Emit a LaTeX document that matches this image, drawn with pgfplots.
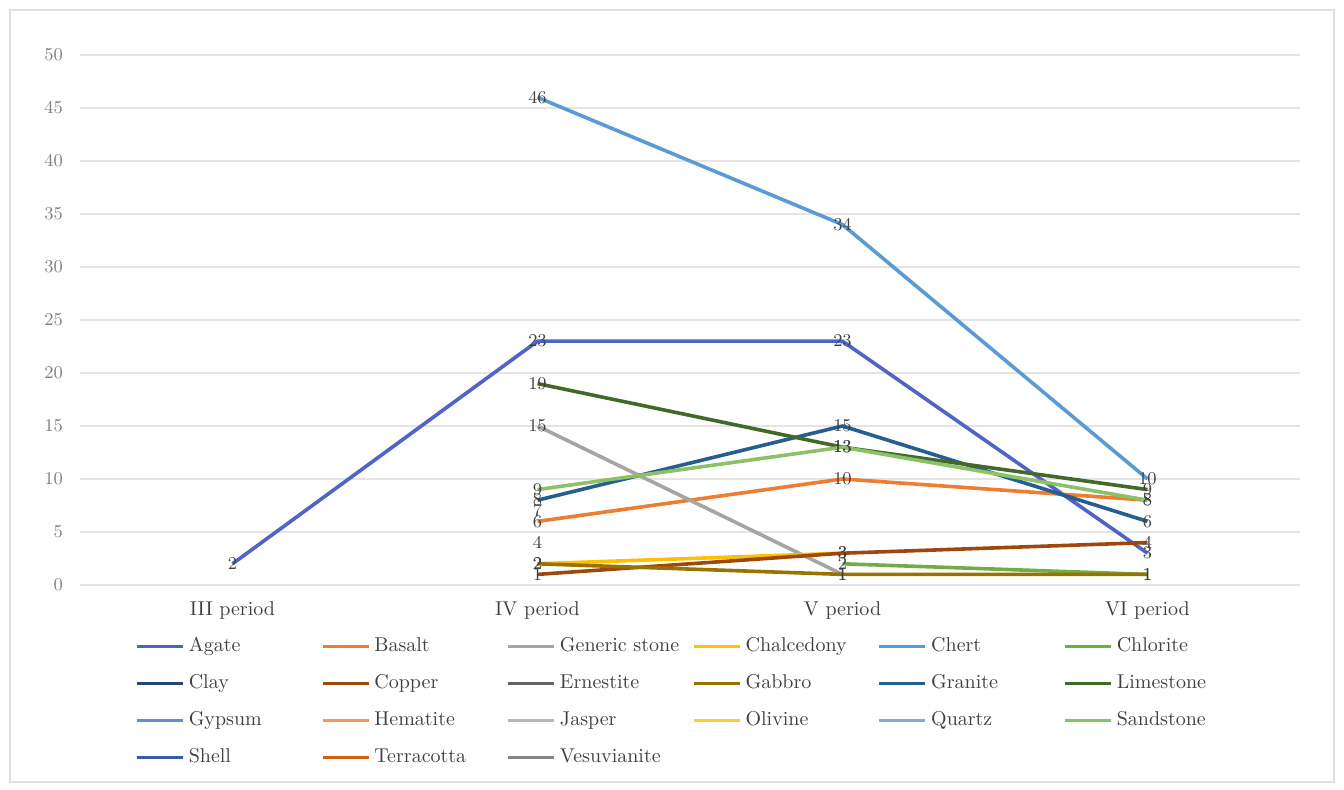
\documentclass[border=0pt]{standalone}
\usepackage{pgfplots}
\pgfplotsset{compat=1.18}
\definecolor{cAgate}{HTML}{4F64C4}
\definecolor{cBasalt}{HTML}{ED7D31}
\definecolor{cGeneric}{HTML}{A5A5A5}
\definecolor{cChalcedony}{HTML}{FFC000}
\definecolor{cChert}{HTML}{5B9BD5}
\definecolor{cChlorite}{HTML}{70AD47}
\definecolor{cClay}{HTML}{264478}
\definecolor{cCopper}{HTML}{9E480E}
\definecolor{cErnestite}{HTML}{636363}
\definecolor{cGabbro}{HTML}{997300}
\definecolor{cGranite}{HTML}{255E91}
\definecolor{cLimestone}{HTML}{43682B}
\definecolor{cGypsum}{HTML}{698ED0}
\definecolor{cHematite}{HTML}{F1975A}
\definecolor{cJasper}{HTML}{B7B7B7}
\definecolor{cOlivine}{HTML}{FFCD33}
\definecolor{cQuartz}{HTML}{7CAFDD}
\definecolor{cSandstone}{HTML}{8CC168}
\definecolor{cShell}{HTML}{3A5CA8}
\definecolor{cTerracotta}{HTML}{D26012}
\definecolor{cVesuvianite}{HTML}{848484}
\definecolor{gridc}{HTML}{E4E4E4}
\definecolor{tickc}{HTML}{7F7F7F}
\definecolor{labc}{HTML}{404040}
\begin{document}
\begin{tikzpicture}
\useasboundingbox (0,0) rectangle (672pt,395pt);
\draw[color=gray!25, line width=0.6pt] (5pt,4pt) rectangle (667pt,390pt);
\begin{axis}[
  at={(40pt,102.5pt)}, anchor=south west,
  scale only axis, width=610pt, height=265pt,
  xmin=-0.5, xmax=3.5, ymin=0, ymax=50,
  xtick={0,1,2,3},
  xticklabels={III period, IV period, V period, VI period},
  ytick={0,5,...,50},
  ymajorgrids, grid style={gridc, line width=0.6pt},
  axis line style={draw=none},
  major tick length=0pt,
  clip=false,
  yticklabel style={font=\fontsize{9.5}{10}\selectfont, text=tickc, xshift=-5pt},
  xticklabel style={font=\fontsize{10}{12}\selectfont, text=labc, yshift=-5pt},
  no markers,
  every axis plot/.append style={line width=1.8pt, line join=round},
  nodes near coords,
  every node near coord/.append style={anchor=center, font=\fontsize{9.5}{10}\selectfont, text=labc, inner sep=0pt},
  legend style={at={(0.040,-0.083)}, anchor=north west, draw=none, fill=none,
    legend columns=6, font=\fontsize{10}{12}\selectfont, text=labc,
    nodes={inner sep=2pt, text height=0.7em, text depth=0.2em},
    row sep=5.5pt},
  legend image code/.code={\draw[#1, line width=1.8pt] (0pt,0pt) -- (23pt,0pt);},
  legend cell align=left,
]
\addplot[cAgate] coordinates {(0,2) (1,23) (2,23) (3,3)};
\addlegendentry{\makebox[64pt][l]{Agate}}
\addplot[cBasalt] coordinates {(1,6) (2,10) (3,8)};
\addlegendentry{\makebox[64pt][l]{Basalt}}
\addplot[cGeneric] coordinates {(1,15) (2,1)};
\addlegendentry{\makebox[64pt][l]{Generic stone}}
\addplot[cChalcedony] coordinates {(1,2) (2,3)};
\addlegendentry{\makebox[64pt][l]{Chalcedony}}
\addplot[cChert] coordinates {(1,46) (2,34) (3,10)};
\addlegendentry{\makebox[64pt][l]{Chert}}
\addplot[cChlorite] coordinates {(2,2) (3,1)};
\addlegendentry{\makebox[64pt][l]{Chlorite}}
\addplot[cClay] coordinates {(1,7)};
\addlegendentry{\makebox[64pt][l]{Clay}}
\addplot[cCopper] coordinates {(1,1) (2,3) (3,4)};
\addlegendentry{\makebox[64pt][l]{Copper}}
\addlegendimage{cErnestite, line width=1.8pt}
\addlegendentry{\makebox[64pt][l]{Ernestite}}
\addplot[cGabbro] coordinates {(1,2) (2,1) (3,1)};
\addlegendentry{\makebox[64pt][l]{Gabbro}}
\addplot[cGranite] coordinates {(1,8) (2,15) (3,6)};
\addlegendentry{\makebox[64pt][l]{Granite}}
\addplot[cLimestone] coordinates {(1,19) (2,13) (3,9)};
\addlegendentry{\makebox[64pt][l]{Limestone}}
\addlegendimage{cGypsum, line width=1.8pt}
\addlegendentry{\makebox[64pt][l]{Gypsum}}
\addplot[cHematite] coordinates {(1,4)};
\addlegendentry{\makebox[64pt][l]{Hematite}}
\addlegendimage{cJasper, line width=1.8pt}
\addlegendentry{\makebox[64pt][l]{Jasper}}
\addlegendimage{cOlivine, line width=1.8pt}
\addlegendentry{\makebox[64pt][l]{Olivine}}
\addlegendimage{cQuartz, line width=1.8pt}
\addlegendentry{\makebox[64pt][l]{Quartz}}
\addplot[cSandstone] coordinates {(1,9) (2,13) (3,8)};
\addlegendentry{\makebox[64pt][l]{Sandstone}}
\addlegendimage{cShell, line width=1.8pt}
\addlegendentry{\makebox[64pt][l]{Shell}}
\addlegendimage{cTerracotta, line width=1.8pt}
\addlegendentry{\makebox[64pt][l]{Terracotta}}
\addlegendimage{cVesuvianite, line width=1.8pt}
\addlegendentry{\makebox[64pt][l]{Vesuvianite}}
\end{axis}
\end{tikzpicture}
\end{document}
